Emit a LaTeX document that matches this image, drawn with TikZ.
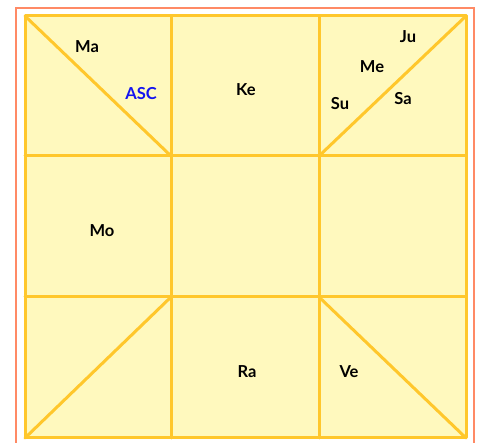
\documentclass[tikz,border=0pt]{standalone}
\usepackage{fontspec}
\setmainfont{Lato}
\usepackage{xcolor}
\usepackage{tikz}
\definecolor{framecolor}{RGB}{255, 138, 101}
\definecolor{gridcolor}{RGB}{255, 199, 44}
\definecolor{cellcolor}{RGB}{255, 249, 190}
\definecolor{asccolor}{RGB}{20, 20, 240}
\usetikzlibrary{calc}

\begin{document}
\begin{tikzpicture}[
    x=1pt, y=-1pt,
    planet/.style={font=\bfseries\fontsize{16.5}{18}\selectfont, text=black, inner sep=0pt},
    gridline/.style={draw=gridcolor, line width=3pt, line cap=round, line join=round}
]
    \useasboundingbox (0,0) rectangle (483,443);
    % outer frame
    \draw[framecolor, line width=2.2pt] (16,450) -- (16,8) -- (474,8) -- (474,450);
    % chart corners
    \coordinate (tl) at (25,16);
    \coordinate (br) at (466,438);
    \fill[cellcolor] (tl) rectangle (br);
    % grid
    \draw[gridline] (tl) rectangle (br);
    \draw[gridline] (171,16) -- (171,438);
    \draw[gridline] (319,16) -- (319,438);
    \draw[gridline] (25,156) -- (466,156);
    \draw[gridline] (25,297) -- (466,297);
    % diagonals
    \draw[gridline] (tl) -- (171,156);
    \draw[gridline] (319,156) -- (466,16);
    \draw[gridline] (25,438) -- (171,297);
    \draw[gridline] (319,297) -- (br);

    \node[planet] (ma) at (87,47) {Ma};
    \node[planet, text=asccolor] (asc) at (141,94) {ASC};
    \node[planet] (ke) at (246,90) {Ke};
    \node[planet] (ju) at (408,37) {Ju};
    \node[planet] (me) at (372,67) {Me};
    \node[planet] (su) at (340,104) {Su};
    \node[planet] (sa) at (403,99) {Sa};
    \node[planet] (mo) at (102,231) {Mo};
    \node[planet] (ra) at (247,372) {Ra};
    \node[planet] (ve) at (349,372) {Ve};
\end{tikzpicture}
\end{document}
